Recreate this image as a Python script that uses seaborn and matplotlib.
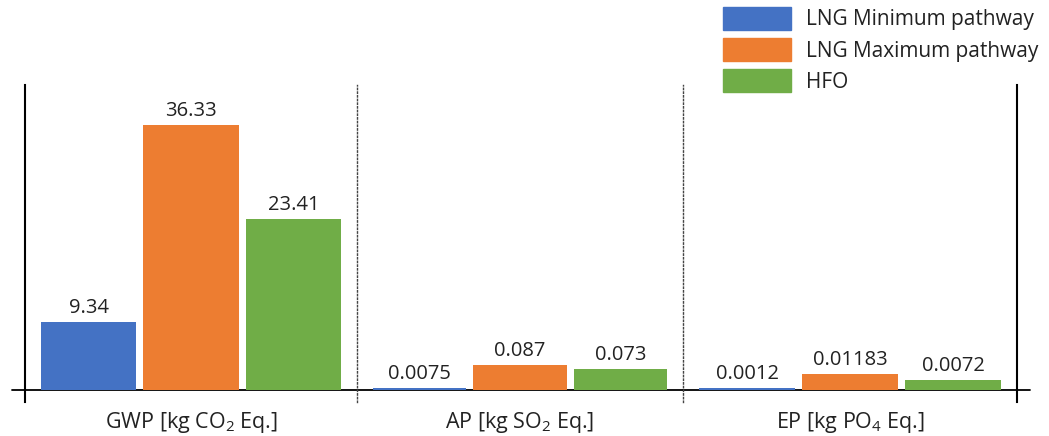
import numpy as np
import pandas as pd
import matplotlib
matplotlib.use("Agg")
import matplotlib.pyplot as plt
import seaborn as sns

# Дані
categories = ["GWP [kg CO$_2$ Eq.]", "AP [kg SO$_2$ Eq.]", "EP [kg PO$_4$ Eq.]"]
series = ["LNG Minimum pathway", "LNG Maximum pathway", "HFO"]
gwp = [9.34, 36.33, 23.41]
ap = [0.0075, 0.087, 0.073]
ep = [0.0012, 0.01183, 0.0072]
colors = ["#4472C4", "#ED7D31", "#70AD47"]

# кожна група має свою шкалу (пікселів на одиницю)
px_per_unit = [7.3, 290, 1370]

sns.set_theme(style="white")
plt.rcParams["font.family"] = ["Open Sans", "DejaVu Sans"]
plt.rcParams["mathtext.fontset"] = "custom"
plt.rcParams["mathtext.rm"] = "Open Sans"
plt.rcParams["mathtext.it"] = "Open Sans"

W, H = 1049, 436
fig = plt.figure(figsize=(W / 100, H / 100), dpi=100)

edges = [25, 357, 683, 1017]
top_px, bot_px, base_px = 85, 402, 390

axes = []
for i, (cat, vals) in enumerate(zip(categories, [gwp, ap, ep])):
    left = edges[i] / W
    width = (edges[i + 1] - edges[i]) / W
    ax = fig.add_axes([left, 1 - bot_px / H, width, (bot_px - top_px) / H])
    df = pd.DataFrame({"category": [cat] * 3, "series": series, "value": vals})
    sns.barplot(data=df, x="category", y="value", hue="series", hue_order=series,
                palette=colors, width=0.925, gap=0.07, ax=ax, legend=False,
                saturation=1, errorbar=None, zorder=2, linewidth=0)
    s = px_per_unit[i]
    ax.set_ylim(-(bot_px - base_px) / s, (base_px - top_px) / s)
    ax.set_xlim(-0.5, 0.5)
    for c in ax.containers:
        ax.bar_label(c, fmt="%g", padding=3, fontsize=14.5, color="#222222")
    ax.set_xlabel("")
    ax.set_ylabel("")
    ax.set_yticks([])
    ax.tick_params(axis="x", length=0, pad=6, labelsize=15.5, colors="#222222")
    for sp in ["top", "bottom", "left", "right"]:
        ax.spines[sp].set_visible(False)
    axes.append(ax)

# базова лінія (під стовпчиками)
axes[0].axhline(0, xmin=-0.04, xmax=1, color="black", lw=1.3, clip_on=False, zorder=1)
axes[1].axhline(0, color="black", lw=1.3, zorder=1)
axes[2].axhline(0, xmin=0, xmax=1.04, color="black", lw=1.3, clip_on=False, zorder=1)

# вертикальні лінії
axes[0].spines["left"].set_visible(True)
axes[0].spines["left"].set_color("black")
axes[0].spines["left"].set_linewidth(1.5)
for ax in axes[1:]:
    ax.spines["left"].set_visible(True)
    ax.spines["left"].set_color("#444444")
    ax.spines["left"].set_linewidth(1.0)
    ax.spines["left"].set_linestyle(":")
axes[2].spines["right"].set_visible(True)
axes[2].spines["right"].set_color("black")
axes[2].spines["right"].set_linewidth(1.5)

# легенда
handles = [plt.Rectangle((0, 0), 1, 1, color=c) for c in colors]
fig.legend(handles, series, loc="upper left", bbox_to_anchor=(723 / W, 1 - 7 / H),
           frameon=False, fontsize=15, handlelength=3.27, handleheight=1.3,
           labelspacing=0.38, handletextpad=0.72, borderpad=0, borderaxespad=0,
           labelcolor="#222222")

fig.savefig("out.png", dpi=100)
